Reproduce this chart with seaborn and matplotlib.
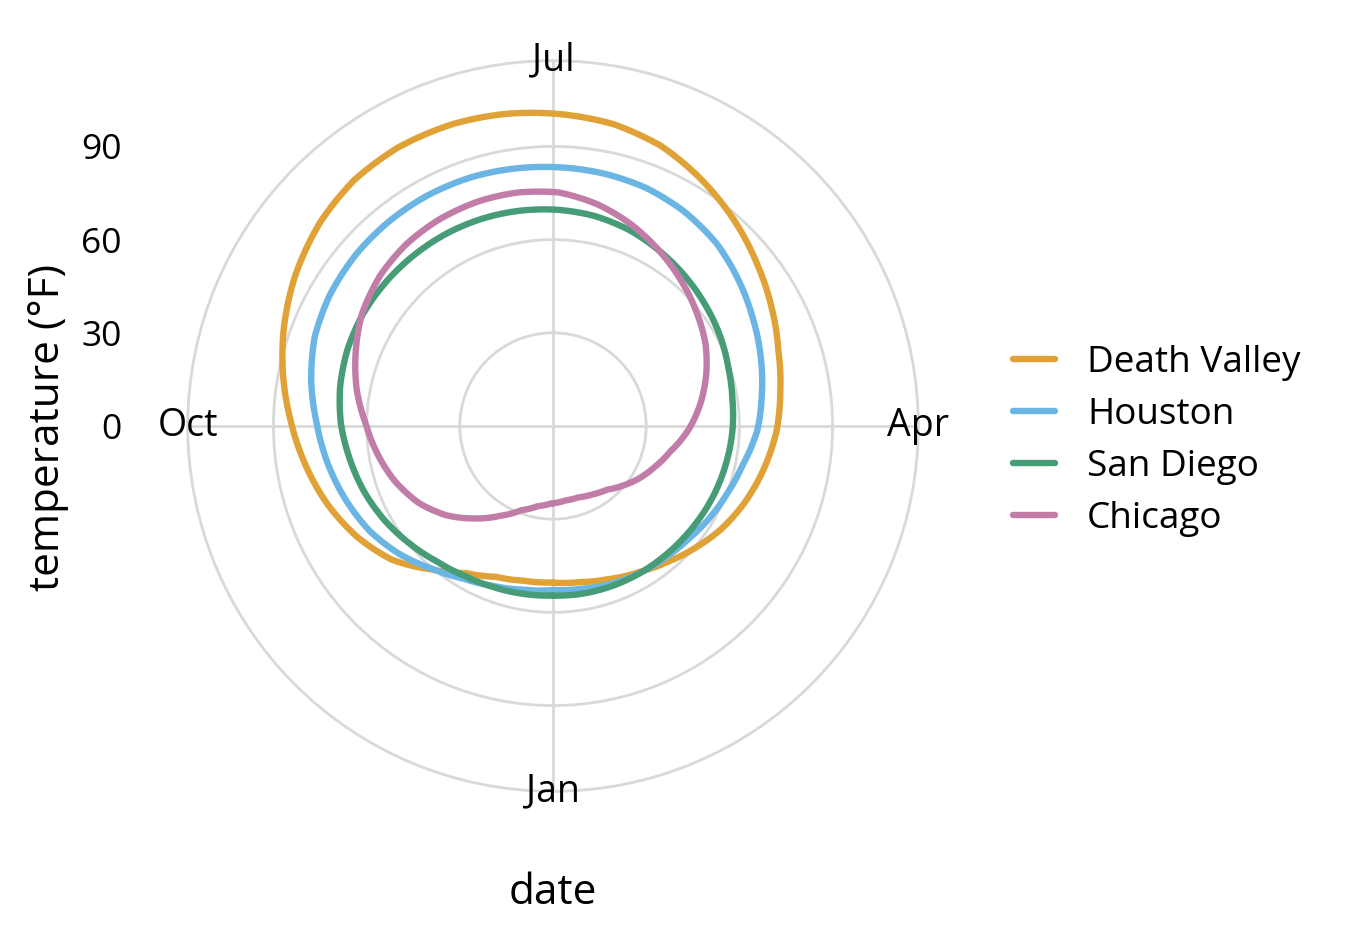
import numpy as np
import pandas as pd
import matplotlib
matplotlib.use("Agg")
import matplotlib.pyplot as plt
from matplotlib.lines import Line2D
import seaborn as sns

# ---------------- data ----------------
cities = ["Death Valley", "Houston", "San Diego", "Chicago"]
city_colors = ["#E0A236", "#6BB5E5", "#469C77", "#C17DA8"]

dates = ["01-01", "01-11", "01-21", "02-01", "02-11", "02-21", "03-01", "03-11", "03-21",
         "04-01", "04-11", "04-21", "05-01", "05-11", "05-21", "06-01", "06-11", "06-21",
         "07-01", "07-11", "07-21", "08-01", "08-11", "08-21", "09-01", "09-11", "09-21",
         "10-01", "10-11", "10-21", "11-01", "11-11", "11-21", "12-01", "12-11", "12-21",
         "12-31"]

death_valley = [50.4, 51.0, 52.4, 54.6, 57.3, 60.6, 63.4, 66.4, 69.1,
                72.0, 74.0, 76.5, 80.0, 83.8, 88.0, 92.6, 96.6, 99.1,
                100.4, 101.6, 102.4, 102.6, 101.8, 99.6, 96.1, 92.4, 88.4,
                84.3, 80.6, 76.9, 72.3, 67.4, 60.6, 55.0, 51.9, 50.7,
                50.4]
houston = [52.8, 53.2, 54.1, 55.0, 55.7, 56.8, 58.2, 60.0, 62.2,
           65.8, 68.0, 70.5, 73.1, 76.0, 78.9, 81.0, 82.3, 82.9,
           83.3, 83.8, 84.3, 84.5, 84.4, 84.1, 83.3, 81.9, 79.2,
           76.1, 73.6, 71.0, 68.0, 64.4, 60.3, 57.0, 55.0, 53.6,
           52.9]
san_diego = [54.6, 54.8, 54.9, 55.0, 55.1, 55.4, 55.8, 56.4, 57.0,
             57.8, 58.4, 59.5, 61.1, 62.6, 64.2, 66.0, 67.7, 68.9,
             69.6, 70.1, 70.5, 70.8, 70.9, 71.0, 71.0, 70.6, 69.7,
             68.3, 66.3, 64.4, 62.0, 59.6, 57.4, 56.0, 55.3, 54.9,
             54.6]
chicago = [24.9, 24.3, 24.4, 25.5, 26.9, 29.8, 32.3, 35.3, 38.7,
           43.8, 48.0, 52.0, 55.8, 58.9, 62.2, 66.0, 69.6, 72.8,
           75.2, 76.0, 76.2, 75.9, 75.2, 73.8, 71.3, 67.8, 64.3,
           60.3, 57.2, 54.0, 49.8, 44.9, 39.1, 33.6, 29.0, 26.3,
           24.9]

month_labels = ["Jan", "Apr", "Jul", "Oct"]
temp_ticks = [0, 30, 60, 90]
r_max = 117.6          # outer circle of the polar panel (°F)

# ---------------- build long table ----------------
series = {"Death Valley": death_valley, "Houston": houston,
          "San Diego": san_diego, "Chicago": chicago}
doy = pd.to_datetime(["2019-" + d for d in dates]).dayofyear.values - 1
frames = []
for c in cities:
    t = np.asarray(series[c], dtype=float)
    d = doy.astype(float)
    # close the annual loop (Jan 1 of the following year)
    d = np.append(d, 365.0)
    t = np.append(t, t[0])
    frames.append(pd.DataFrame({"theta": 2 * np.pi * d / 365.0,
                                "temperature": t, "city": c}))
df = pd.concat(frames, ignore_index=True)

# ---------------- figure ----------------
sns.set_style("white")
plt.rcParams["font.family"] = ["Open Sans", "DejaVu Sans"]
plt.rcParams["text.color"] = "black"

W, H = 1352, 934
fig = plt.figure(figsize=(W / 100, H / 100), dpi=100)

cx, cy, R = 553, 426, 365.3
ax = fig.add_axes([(cx - R) / W, (H - cy - R) / H, 2 * R / W, 2 * R / H],
                  projection="polar")
ax.set_theta_zero_location("S")
ax.set_theta_direction(1)
ax.set_ylim(0, r_max)

grid_col = "#D9D9D9"
ax.set_rticks([30, 60, 90])
ax.set_yticklabels([])
ax.set_xticks(np.arange(4) * np.pi / 2)
ax.set_xticklabels([])
ax.grid(True, color=grid_col, linewidth=2.0)
ax.spines["polar"].set_color(grid_col)
ax.spines["polar"].set_linewidth(2.0)
ax.set_axisbelow(True)

sns.lineplot(data=df, x="theta", y="temperature", hue="city",
             hue_order=cities, palette=city_colors, sort=False,
             estimator=None, linewidth=4.6, legend=False, ax=ax)
ax.set_xlabel("")
ax.set_ylabel("")
# draw each segment as a polar arc (like ggplot's coord_polar munching)
for ln in ax.lines:
    ln.get_path()._interpolation_steps = 24

for i, lab in enumerate(month_labels):
    ax.text(i * np.pi / 2, r_max, lab, ha="center", va="center",
            fontsize=27, clip_on=False, zorder=5)

# radial axis drawn at the left, like ggplot's coord_polar
ax2 = fig.add_axes([145 / W, (H - cy) / H, 0.0001, R / H])
ax2.set_ylim(0, r_max)
ax2.set_yticks(temp_ticks)
ax2.set_xticks([])
for s in ax2.spines.values():
    s.set_visible(False)
ax2.patch.set_visible(False)
ax2.tick_params(axis="y", length=8.6, width=1.5, color=grid_col,
                pad=8, labelsize=25.5, labelcolor="black")

fig.text(48 / W, 1 - 427 / H, "temperature (°F)", rotation=90,
         ha="center", va="center", fontsize=30.5)
fig.text(553 / W, 1 - 893 / H, "date", ha="center", va="center",
         fontsize=30.5)

handles = [Line2D([0], [0], color=col, lw=4.6) for col in city_colors]
fig.legend(handles, cities, loc="center left",
           bbox_to_anchor=(1013 / W, 1 - 441 / H), frameon=False,
           fontsize=26.6, handlelength=1.14, handletextpad=0.86,
           labelspacing=0.44, borderpad=0, borderaxespad=0)

fig.savefig("out.png", dpi=100)
